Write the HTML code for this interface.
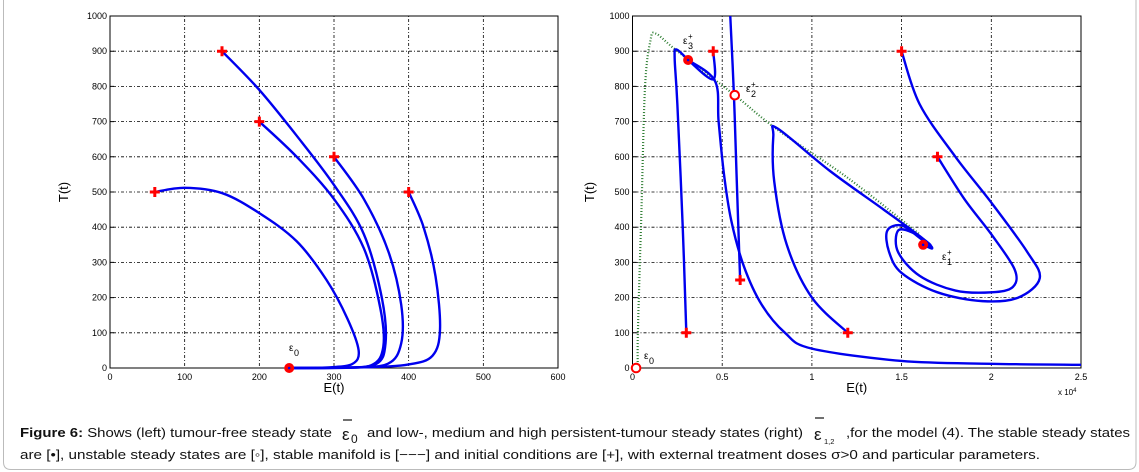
<!DOCTYPE html>
<html><head><meta charset="utf-8"><style>
html,body{margin:0;padding:0;background:#fff;}
svg{display:block;font-family:"Liberation Sans",Arial,sans-serif;}
</style></head><body>
<svg id="fig" width="1139" height="472" viewBox="0 0 1139 472" xmlns="http://www.w3.org/2000/svg">
<path d="M3.5,0 V462 Q3.5,469.5 11,469.5 H1128 Q1136,469.5 1136,462 V0" fill="none" stroke="#bbb" stroke-width="1"/>
<g id="left"></g>
<g id="right"></g>
<g font-size="13" fill="#111">
<text x="20" y="437" textLength="312" lengthAdjust="spacingAndGlyphs"><tspan font-weight="bold">Figure 6:</tspan> Shows (left) tumour-free steady state</text>
<text x="342" y="440" font-size="17">ε</text>
<text x="351" y="443" font-size="12">0</text>
<line x1="343" y1="420" x2="352" y2="420" stroke="#111" stroke-width="1.2"/>
<text x="367" y="437" textLength="436" lengthAdjust="spacingAndGlyphs">and low-, medium and high persistent-tumour steady states (right)</text>
<text x="814" y="440" font-size="17">ε</text>
<text x="824" y="444" font-size="7.5">1,2</text>
<line x1="815" y1="418" x2="824" y2="418" stroke="#111" stroke-width="1.2"/>
<text x="846" y="437" textLength="284" lengthAdjust="spacingAndGlyphs">,for the model (4). The stable steady states</text>
<text x="20" y="459" textLength="1020" lengthAdjust="spacingAndGlyphs">are [•], unstable steady states are [◦], stable manifold is [−−−] and initial conditions are [+], with external treatment doses σ&gt;0 and particular parameters.</text>
</g>
</svg>
<script>
// ---- data ----
const leftXTicks=[0,100,200,300,400,500,600];
const leftYTicks=[0,100,200,300,400,500,600,700,800,900,1000];
const leftStarts=[[60,500],[200,700],[150,900],[300,600],[400,500]];
const leftTraj1=[[60,500],[100,512],[150,497],[200,440],[250,360],[290,250],[318,140],[333,50],[325,12],[295,2],[240,0]];
const leftTraj2=[[200,700],[250,600],[300,480],[340,340],[362,170],[366,60],[350,8],[300,1],[240,0]];
const leftTraj3=[[150,900],[200,790],[250,660],[300,520],[340,380],[364,200],[369,70],[355,10],[300,1],[240,0]];
const leftTraj4=[[300,600],[340,480],[373,330],[390,180],[390,70],[372,12],[320,1],[240,0]];
const leftTraj5=[[400,500],[420,400],[436,260],[442,110],[432,35],[400,10],[340,2],[240,0]];
const leftStable=[[240,0]];
const rightXTicks=[0,0.5,1,1.5,2,2.5];
const rightYTicks=[0,100,200,300,400,500,600,700,800,900,1000];
const rightStarts=[[0.3,100],[0.45,900],[0.6,250],[1.2,100],[1.5,900],[1.7,600]];
const rTrajA=[[0.3,100],[0.28,400],[0.25,750],[0.235,880],[0.245,905],[0.31,875]];
const rTrajB=[[0.45,900],[0.45,820],[0.31,875]];
const rTrajC=[[0.31,875],[0.46,815],[0.48,700],[0.51,550],[0.55,420],[0.62,290],[0.72,180],[0.85,100],[1.0,55],[1.5,20],[2.0,12],[2.5,9]];
const rTrajD=[[0.545,1000],[0.565,780],[0.58,550],[0.6,250]];
const rTrajE=[[1.2,100],[1.0,200],[0.86,350],[0.79,530],[0.785,660],[0.81,680],[1.1,560],[1.4,450],[1.6,375],[1.67,342],[1.62,350]];
const rTrajF=[[1.5,900],[1.6,750],[1.8,600],[2.0,470],[2.2,330],[2.27,255],[2.15,200],[1.95,190],[1.7,215],[1.5,270],[1.43,330],[1.42,390],[1.5,405],[1.6,370],[1.67,340],[1.62,350]];
const rTrajG=[[1.7,600],[1.85,480],[2.0,380],[2.13,280],[2.12,230],[2.0,215],[1.8,220],[1.6,262],[1.48,330],[1.48,390],[1.56,385],[1.66,350],[1.62,350]];
const rManifold=[[0.03,0],[0.03,100],[0.05,450],[0.07,800],[0.1,930],[0.13,950],[0.25,900],[0.57,775],[0.8,680],[1.2,540],[1.6,380]];
const rStable=[[0.31,875],[1.62,350]];
const rUnstable=[[0.57,775],[0.02,0]];
// ---- helpers ----
const NS="http://www.w3.org/2000/svg";
function mk(tag,attrs,parent){const e=document.createElementNS(NS,tag);for(const k in attrs)e.setAttribute(k,attrs[k]);parent.appendChild(e);return e;}
function smooth(pts){let d="M"+pts[0][0]+","+pts[0][1];for(let i=0;i<pts.length-1;i++){const p0=pts[i-1]||pts[i],p1=pts[i],p2=pts[i+1],p3=pts[i+2]||p2;const c1=[p1[0]+(p2[0]-p0[0])/6,p1[1]+(p2[1]-p0[1])/6],c2=[p2[0]-(p3[0]-p1[0])/6,p2[1]-(p3[1]-p1[1])/6];d+=" C"+c1+" "+c2+" "+p2;}return d;}
function axes(g,X0,X1,Y0,Y1,xmin,xmax,ymin,ymax,xt,yt,ylab){
  const sx=v=>X0+(v-xmin)/(xmax-xmin)*(X1-X0), sy=v=>Y0-(v-ymin)/(ymax-ymin)*(Y0-Y1);
  xt.forEach(t=>{const l=mk('line',{x1:sx(t),x2:sx(t),y1:Y1,y2:Y0,stroke:'#000','stroke-width':0.8,'stroke-dasharray':'1,2,3,2'},g);
    const tx=mk('text',{x:sx(t),y:Y0+12,'font-size':9,'text-anchor':'middle'},g);tx.textContent=t;});
  yt.forEach(t=>{const l=mk('line',{x1:X0,x2:X1,y1:sy(t),y2:sy(t),stroke:'#000','stroke-width':0.8,'stroke-dasharray':'1,2,3,2'},g);
    const tk=mk('path',{d:`M${X0},${sy(t)}h4M${X1},${sy(t)}h-4`,stroke:'#000','stroke-width':1},g);
    const tx=mk('text',{x:X0-3,y:sy(t)+3,'font-size':9,'text-anchor':'end'},g);tx.textContent=t;});
  const b=mk('rect',{x:X0,y:Y1,width:X1-X0,height:Y0-Y1,fill:'none',stroke:'#000','stroke-width':1},g);
  const xl=mk('text',{x:(X0+X1)/2,y:Y0+24,'font-size':13,'text-anchor':'middle'},g);xl.textContent='E(t)';
  const yl=mk('text',{x:0,y:0,'font-size':13,'text-anchor':'middle',transform:`translate(${ylab},${(Y0+Y1)/2}) rotate(-90)`},g);yl.textContent='T(t)';
  return [sx,sy];
}
function traj(g,pts,sx,sy){const p=mk('path',{d:smooth(pts.map(q=>[sx(q[0]),sy(q[1])])),fill:'none',stroke:'#0000ee','stroke-width':2.4,'stroke-linejoin':'round'},g);}
function cross(g,q,sx,sy){const x=sx(q[0]),y=sy(q[1]);const p=mk('path',{d:`M${x-5},${y}H${x+5}M${x},${y-5}V${y+5}`,stroke:'#ff0000','stroke-width':3},g);}
function stab(g,q,sx,sy){const c=mk('circle',{cx:sx(q[0]),cy:sy(q[1]),r:5,fill:'#ff0000'},g);
  const d=mk('circle',{cx:sx(q[0]),cy:sy(q[1]),r:1.3,fill:'#0000ee'},g);}
function unst(g,q,sx,sy){const c=mk('circle',{cx:sx(q[0]),cy:sy(q[1]),r:4.3,fill:'#fff',stroke:'#ff0000','stroke-width':2},g);}
function lab(g,x,y,sub,sup,name){
  const t=mk('text',{x:x,y:y,'font-size':10},g);t.textContent='ε';
  const s=mk('text',{x:x+5,y:y+5,'font-size':9},g);s.textContent=sub;
  if(sup){const p=mk('text',{x:x+5,y:y-5,'font-size':8},g);p.textContent=sup;}
}
// ---- left ----
const L=document.getElementById('left');
const [lx,ly]=axes(L,110,558,368,16,0,600,0,1000,leftXTicks,leftYTicks,68);
[leftTraj1,leftTraj2,leftTraj3,leftTraj4,leftTraj5].forEach(t=>traj(L,t,lx,ly));
leftStarts.forEach(q=>cross(L,q,lx,ly));
leftStable.forEach(q=>stab(L,q,lx,ly));
lab(L,289,351,'0','','epsilon0-label');
// ---- right ----
const R=document.getElementById('right');
const [rx,ry]=axes(R,632.5,1081,368,16,0,2.5,0,1000,rightXTicks,rightYTicks,594);
const xs=mk('text',{x:1058,y:395,'font-size':8},R);xs.innerHTML='x 10<tspan font-size="6" dy="-3">4</tspan>';


const mf=mk('path',{d:smooth(rManifold.map(q=>[rx(q[0]),ry(q[1])])),fill:'none',stroke:'#2e7d32','stroke-width':2.2,'stroke-dasharray':'1,2'},R);


[rTrajA,rTrajB,rTrajC,rTrajD,rTrajE,rTrajF,rTrajG].forEach(t=>traj(R,t,rx,ry));
rightStarts.forEach(q=>cross(R,q,rx,ry));
rStable.forEach(q=>stab(R,q,rx,ry));
rUnstable.forEach(q=>unst(R,q,rx,ry));
lab(R,683,44,'3','+','epsilon3-label');
lab(R,746,92,'2','+','epsilon2-label');
lab(R,942,260,'1','+','epsilon1-label');
lab(R,644,359,'0','','epsilon0-right-label');
</script>
</body></html>
